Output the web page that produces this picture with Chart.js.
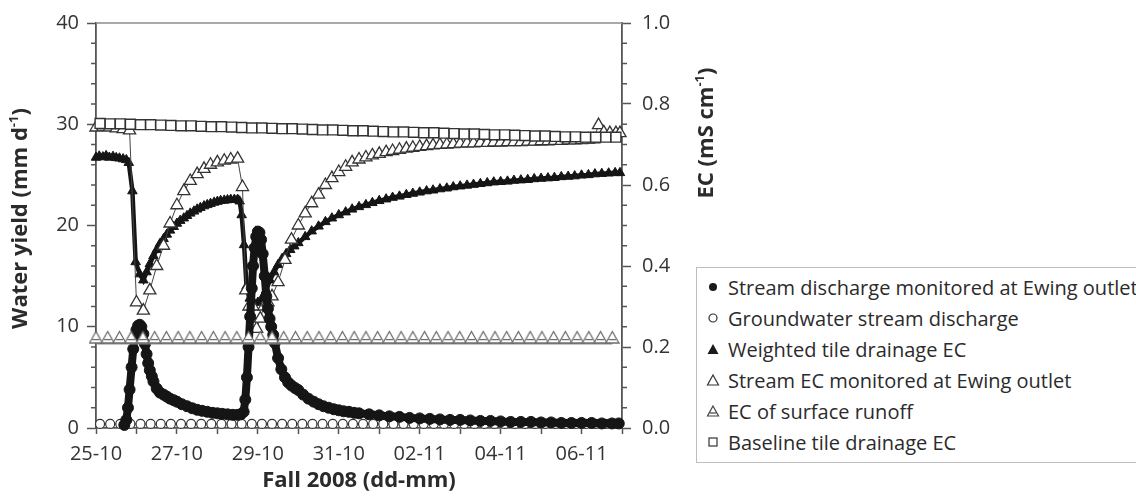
<!DOCTYPE html>
<html>
<head>
<meta charset="utf-8">
<script src="https://cdn.jsdelivr.net/npm/chart.js@4.4.1/dist/chart.umd.min.js"></script>
<style>
html, body { margin: 0; padding: 0; background: #fff; overflow: hidden; }
#wrap { position: relative; width: 1136px; height: 497px; }
#legend {
    position: absolute; left: 696px; top: 267px; width: 470px; height: 196px;
    border: 1px solid #bdbdbd; box-sizing: border-box; background: #fff;
    font-family: 'Open Sans', sans-serif; font-size: 20px; color: #2b2b2b;
}
.item { position: absolute; left: 0; height: 31px; line-height: 31px; white-space: nowrap; }
.item svg { position: absolute; left: 9px; top: 8px; }
.item span { position: absolute; left: 31px; }
</style>
</head>
<body>
<div id="wrap">
    <canvas id="chart" width="1136" height="497"></canvas>
    <div id="legend">
        <div class="item" style="top:4px"><svg width="14" height="14"><circle cx="7" cy="7" r="4" fill="#1a1a1a"/></svg><span>Stream discharge monitored at Ewing outlet</span></div>
        <div class="item" style="top:35px"><svg width="14" height="14"><circle cx="7" cy="7" r="4" fill="#fff" stroke="#333" stroke-width="1.2"/></svg><span>Groundwater stream discharge</span></div>
        <div class="item" style="top:66px"><svg width="14" height="14"><polygon points="7,2 12.5,12 1.5,12" fill="#1a1a1a"/></svg><span>Weighted tile drainage EC</span></div>
        <div class="item" style="top:97px"><svg width="14" height="14"><polygon points="7,2 12.5,12 1.5,12" fill="#fff" stroke="#333" stroke-width="1.2"/></svg><span>Stream EC monitored at Ewing outlet</span></div>
        <div class="item" style="top:128px"><svg width="14" height="14"><polygon points="7,2 12.5,12 1.5,12" fill="#fff" stroke="#444" stroke-width="1.2"/><line x1="3.8" y1="9" x2="10.2" y2="9" stroke="#444" stroke-width="1.2"/></svg><span>EC of surface runoff</span></div>
        <div class="item" style="top:159px"><svg width="14" height="14"><rect x="3" y="3" width="8" height="8" fill="#fff" stroke="#333" stroke-width="1.2"/></svg><span>Baseline tile drainage EC</span></div>
    </div>
</div>
<script>
// =======================
// DATA (x = days since 25-10 00:00)
// =======================
const dateLabels = ['25-10', '27-10', '29-10', '31-10', '02-11', '04-11', '06-11'];

// stream discharge at Ewing outlet (mm/d, left axis)
const dischargeDay = [0.70,0.75,0.79,0.83,0.88,0.92,0.96,1.00,1.04,1.08,
    1.12,1.17,1.21,1.25,1.29,1.33,1.38,1.42,1.50,1.58,
    1.67,1.75,1.83,1.92,2.00,2.12,2.25,2.38,2.50,2.62,
    2.75,2.88,3.00,3.12,3.25,3.38,3.50,3.58,3.65,3.69,
    3.73,3.77,3.81,3.85,3.88,3.92,3.96,4.00,4.04,4.08,
    4.12,4.17,4.21,4.25,4.29,4.33,4.38,4.42,4.50,4.58,
    4.67,4.75,4.83,4.92,5.00,5.12,5.25,5.38,5.50,5.62,
    5.75,5.88,6.00,6.12,6.25,6.38,6.50,6.75,7.00,7.25,
    7.50,7.75,8.00,8.25,8.50,8.75,9.00,9.25,9.50,9.75,
    10.00,10.25,10.50,10.75,11.00,11.25,11.50,11.75,12.00,12.25,
    12.50,12.75,12.92];
const dischargeVal = [0.3,0.8,2.0,3.8,6.0,7.8,9.0,9.7,10.1,10.2,
    10.0,9.3,8.3,7.3,6.4,5.7,5.1,4.6,3.9,3.5,
    3.3,3.1,2.9,2.75,2.6,2.35,2.15,1.95,1.8,1.7,
    1.6,1.5,1.45,1.4,1.35,1.3,1.3,1.35,1.6,2.8,
    5.0,8.0,11.0,13.8,16.0,17.8,18.9,19.4,19.3,18.6,
    17.2,15.0,13.0,11.8,10.8,10.0,9.2,8.4,6.9,5.8,
    5.0,4.5,4.2,3.95,3.75,3.3,2.9,2.6,2.35,2.15,
    2.0,1.85,1.75,1.65,1.6,1.5,1.45,1.35,1.25,1.15,
    1.1,1.0,0.95,0.9,0.85,0.8,0.8,0.75,0.7,0.7,
    0.65,0.6,0.6,0.6,0.55,0.55,0.5,0.5,0.5,0.5,
    0.45,0.45,0.45];

// weighted tile drainage EC (mS/cm, right axis)
const weightedDay = [0.00,0.08,0.17,0.25,0.33,0.42,0.50,0.58,0.67,0.75,
    0.81,0.90,0.98,1.08,1.17,1.25,1.33,1.42,1.50,1.58,
    1.67,1.75,1.83,1.92,2.00,2.08,2.17,2.25,2.33,2.42,
    2.50,2.58,2.67,2.75,2.83,2.92,3.00,3.08,3.17,3.25,
    3.33,3.42,3.50,3.55,3.60,3.66,3.72,3.80,3.90,4.00,
    4.10,4.20,4.30,4.40,4.50,4.60,4.70,4.80,4.90,5.00,
    5.17,5.33,5.50,5.67,5.83,6.00,6.17,6.33,6.50,6.67,
    6.83,7.00,7.17,7.33,7.50,7.67,7.83,8.00,8.17,8.33,
    8.50,8.67,8.83,9.00,9.17,9.33,9.50,9.67,9.83,10.00,
    10.17,10.33,10.50,10.67,10.83,11.00,11.17,11.33,11.50,11.67,
    11.83,12.00,12.17,12.33,12.50,12.67,12.83,12.95];
const weightedVal = [0.668,0.671,0.669,0.672,0.668,0.670,0.667,0.666,0.664,0.662,
    0.655,0.585,0.41,0.38,0.365,0.385,0.405,0.425,0.44,0.455,
    0.467,0.478,0.488,0.497,0.505,0.512,0.518,0.524,0.53,0.535,
    0.54,0.544,0.548,0.551,0.554,0.557,0.559,0.561,0.562,0.563,
    0.564,0.564,0.564,0.56,0.526,0.452,0.35,0.32,0.31,0.31,
    0.32,0.34,0.365,0.385,0.403,0.418,0.43,0.44,0.449,0.457,
    0.472,0.486,0.498,0.509,0.518,0.526,0.533,0.54,0.546,0.551,
    0.556,0.561,0.565,0.569,0.572,0.576,0.579,0.582,0.585,0.587,
    0.59,0.592,0.595,0.597,0.599,0.601,0.603,0.605,0.607,0.608,
    0.609,0.611,0.612,0.613,0.615,0.616,0.617,0.618,0.62,0.621,
    0.622,0.624,0.625,0.627,0.628,0.629,0.63,0.63];

// stream EC at Ewing outlet (mS/cm, right axis)
const streamEcDay = [0.00,0.17,0.33,0.50,0.67,0.83,1.00,1.17,1.33,1.50,
    1.67,1.83,2.00,2.17,2.33,2.50,2.67,2.83,3.00,3.17,
    3.33,3.50,3.62,3.70,3.78,3.88,3.97,4.06,4.15,4.25,
    4.35,4.50,4.67,4.83,5.00,5.17,5.33,5.50,5.67,5.83,
    6.00,6.17,6.33,6.50,6.67,6.83,7.00,7.17,7.33,7.50,
    7.67,7.83,8.00,8.17,8.33,8.50,8.67,8.83,9.00,9.17,
    9.33,9.50,9.67,9.83,10.00,10.17,10.33,10.50,10.67,10.83,
    11.00,11.17,11.33,11.50,11.67,11.83,12.00,12.17,12.30,12.42,
    12.55,12.70,12.85,12.95];
const streamEcVal = [0.742,0.744,0.742,0.740,0.738,0.735,0.31,0.29,0.34,0.40,
    0.45,0.505,0.55,0.585,0.61,0.627,0.64,0.65,0.656,0.66,
    0.663,0.665,0.595,0.34,0.30,0.30,0.245,0.27,0.30,0.31,
    0.325,0.36,0.415,0.465,0.50,0.53,0.555,0.576,0.60,0.617,
    0.632,0.645,0.656,0.663,0.668,0.673,0.677,0.681,0.684,0.687,
    0.69,0.692,0.694,0.696,0.698,0.699,0.70,0.701,0.702,0.703,
    0.703,0.704,0.704,0.705,0.705,0.706,0.706,0.706,0.707,0.707,
    0.708,0.708,0.709,0.709,0.71,0.71,0.711,0.712,0.713,0.748,
    0.73,0.728,0.728,0.728];

// baseline tile drainage EC (right axis) and groundwater discharge (left axis)
const baseDay = [0.10,0.35,0.60,0.85,1.10,1.35,1.60,1.85,2.10,2.35,
    2.60,2.85,3.10,3.35,3.60,3.85,4.10,4.35,4.60,4.85,
    5.10,5.35,5.60,5.85,6.10,6.35,6.60,6.85,7.10,7.35,
    7.60,7.85,8.10,8.35,8.60,8.85,9.10,9.35,9.60,9.85,
    10.10,10.35,10.60,10.85,11.10,11.35,11.60,11.85,12.10,12.35,
    12.60,12.85];
const baselineVal = [0.752,0.751,0.751,0.750,0.749,0.749,0.748,0.747,0.746,0.746,
    0.745,0.744,0.744,0.743,0.742,0.741,0.741,0.740,0.739,0.739,
    0.738,0.737,0.736,0.736,0.735,0.734,0.734,0.733,0.732,0.731,
    0.731,0.730,0.729,0.729,0.728,0.727,0.726,0.726,0.725,0.724,
    0.724,0.723,0.722,0.721,0.721,0.720,0.719,0.719,0.718,0.718,
    0.718,0.718];
const groundwaterVal = [0.4,0.4,0.4,0.4,0.4,0.4,0.4,0.4,0.4,0.4,
    0.4,0.4,0.4,0.4,0.4,0.4,0.4,0.4,0.4,0.4,
    0.4,0.4,0.4,0.4,0.4,0.4,0.4,0.4,0.4,0.4,
    0.4,0.4,0.4,0.4,0.4,0.4,0.4,0.4,0.4,0.4,
    0.4,0.4,0.4,0.4,0.4,0.4,0.4,0.4,0.4,0.4,
    0.4,0.4];

// EC of surface runoff (right axis)
const runoffDay = [0.00,0.29,0.58,0.87,1.16,1.45,1.74,2.03,2.32,2.61,
    2.90,3.19,3.48,3.77,4.06,4.35,4.64,4.93,5.22,5.51,
    5.80,6.09,6.38,6.67,6.96,7.25,7.54,7.83,8.12,8.41,
    8.70,8.99,9.28,9.57,9.86,10.15,10.44,10.73,11.02,11.31,
    11.60,11.89,12.18,12.47,12.76];
const runoffVal = [0.21,0.21,0.21,0.21,0.21,0.21,0.21,0.21,0.21,0.21,
    0.21,0.21,0.21,0.21,0.21,0.21,0.21,0.21,0.21,0.21,
    0.21,0.21,0.21,0.21,0.21,0.21,0.21,0.21,0.21,0.21,
    0.21,0.21,0.21,0.21,0.21,0.21,0.21,0.21,0.21,0.21,
    0.21,0.21,0.21,0.21,0.21];

function pts(days, vals) {
    return days.map((d, i) => ({ x: d, y: vals[i] }));
}

// triangle with a stripe, base sits on the point
function runoffMarker() {
    const c = document.createElement('canvas');
    c.width = 15; c.height = 26;
    const g = c.getContext('2d');
    g.fillStyle = '#fff';
    g.strokeStyle = '#6e6e6e';
    g.lineWidth = 1.3;
    g.beginPath();
    g.moveTo(7.5, 1.5); g.lineTo(14, 13); g.lineTo(1, 13); g.closePath();
    g.fill(); g.stroke();
    g.beginPath();
    g.moveTo(3.8, 9.6); g.lineTo(11.2, 9.6);
    g.stroke();
    return c;
}

// =======================
// EXTRA DRAWING: top frame, minor ticks, rotated titles
// =======================
function drawTitle(ctx, cx, cy, main, sup, tail) {
    ctx.save();
    ctx.translate(cx, cy);
    ctx.rotate(-Math.PI / 2);
    ctx.fillStyle = '#2b2b2b';
    ctx.textBaseline = 'middle';
    ctx.textAlign = 'left';
    const big = "bold 22px 'Open Sans', sans-serif";
    const small = "bold 13px 'Open Sans', sans-serif";
    ctx.font = big;
    const w1 = ctx.measureText(main).width;
    const w3 = ctx.measureText(tail).width;
    ctx.font = small;
    const w2 = ctx.measureText(sup).width;
    let x = -(w1 + w2 + w3) / 2;
    ctx.font = big;
    ctx.fillText(main, x, 0);
    x += w1;
    ctx.font = small;
    ctx.fillText(sup, x, -7);
    x += w2;
    ctx.font = big;
    ctx.fillText(tail, x, 0);
    ctx.restore();
}

const extras = {
    id: 'extras',
    afterDraw(chart) {
        const ctx = chart.ctx;
        const a = chart.chartArea;
        const yl = chart.scales.y;
        const yr = chart.scales.y2;
        ctx.save();
        ctx.strokeStyle = '#8c8c8c';
        ctx.lineWidth = 1.6;
        ctx.beginPath();
        ctx.moveTo(a.left, a.top);
        ctx.lineTo(a.right, a.top);
        ctx.stroke();

        ctx.strokeStyle = '#555';
        ctx.lineWidth = 1.4;
        ctx.beginPath();
        for (let k = 1; k < 20; k++) {
            if (k % 5 === 0) continue;
            const py = yl.getPixelForValue(k * 2);
            ctx.moveTo(a.left - 5, py); ctx.lineTo(a.left, py);
        }
        for (let k = 1; k < 20; k++) {
            if (k % 4 === 0) continue;
            const py = yr.getPixelForValue(k * 0.05);
            ctx.moveTo(a.right, py); ctx.lineTo(a.right + 5, py);
        }
        ctx.stroke();
        ctx.restore();

        drawTitle(ctx, 21, (a.top + a.bottom) / 2 - 7, 'Water yield (mm d', '-1', ')');
        drawTitle(ctx, 707, 133, 'EC (mS cm', '-1', ')');
    }
};

// =======================
// CHART
// =======================
Chart.defaults.font.family = "'Open Sans', sans-serif";
Chart.defaults.color = '#333';

const tickFont = { size: 20 };
const axisGrid = { drawOnChartArea: false, drawTicks: true, tickLength: 9, tickColor: '#555', tickWidth: 1.5 };
const axisBorder = { color: '#555', width: 1.8 };

new Chart(document.getElementById('chart'), {
    type: 'line',
    data: {
        datasets: [
            {
                label: 'EC of surface runoff',
                data: pts(runoffDay, runoffVal),
                yAxisID: 'y2',
                borderColor: '#8c8c8c',
                borderWidth: 3,
                pointStyle: runoffMarker(),
                pointRadius: 6,
                clip: false
            },
            {
                label: 'Stream discharge monitored at Ewing outlet',
                data: pts(dischargeDay, dischargeVal),
                yAxisID: 'y',
                borderColor: '#151515',
                borderWidth: 8,
                pointStyle: 'circle',
                pointRadius: 5.5,
                pointBackgroundColor: '#151515',
                pointBorderColor: '#151515',
                pointBorderWidth: 1,
                clip: false
            },
            {
                label: 'Baseline tile drainage EC',
                data: pts(baseDay, baselineVal),
                yAxisID: 'y2',
                borderColor: '#777',
                borderWidth: 1,
                pointStyle: 'rect',
                pointRadius: 7,
                pointBackgroundColor: '#fff',
                pointBorderColor: '#333',
                pointBorderWidth: 1.4,
                clip: false
            },
            {
                label: 'Stream EC monitored at Ewing outlet',
                data: pts(streamEcDay, streamEcVal),
                yAxisID: 'y2',
                borderColor: '#444',
                borderWidth: 1,
                pointStyle: 'triangle',
                pointRadius: 7,
                pointBackgroundColor: '#fff',
                pointBorderColor: '#333',
                pointBorderWidth: 1.3,
                clip: false
            },
            {
                label: 'Weighted tile drainage EC',
                data: pts(weightedDay, weightedVal),
                yAxisID: 'y2',
                borderColor: '#151515',
                borderWidth: 4.5,
                pointStyle: 'triangle',
                pointRadius: 5.5,
                pointBackgroundColor: '#151515',
                pointBorderColor: '#151515',
                pointBorderWidth: 1,
                clip: false
            },
            {
                label: 'Groundwater stream discharge',
                data: pts(baseDay, groundwaterVal),
                yAxisID: 'y',
                borderColor: '#555',
                borderWidth: 1,
                pointStyle: 'circle',
                pointRadius: 4.5,
                pointBackgroundColor: '#fff',
                pointBorderColor: '#333',
                pointBorderWidth: 1.2,
                clip: false
            }
        ]
    },
    options: {
        responsive: false,
        animation: false,
        events: [],
        layout: { padding: { top: 23, right: 0, bottom: 0, left: 0 } },
        plugins: {
            legend: { display: false },
            tooltip: { enabled: false }
        },
        elements: { line: { tension: 0 } },
        scales: {
            x: {
                type: 'linear',
                min: 0,
                max: 13,
                ticks: {
                    stepSize: 1,
                    autoSkip: false,
                    maxRotation: 0,
                    padding: 8,
                    font: tickFont,
                    callback: (v) => (v % 2 === 0 && v / 2 < dateLabels.length) ? dateLabels[v / 2] : ''
                },
                grid: Object.assign({}, axisGrid, { tickLength: 6 }),
                border: axisBorder,
                title: {
                    display: true,
                    text: 'Fall 2008 (dd-mm)',
                    color: '#2b2b2b',
                    font: { size: 22, weight: 'bold' },
                    padding: { top: 0, bottom: 3 }
                },
                afterFit: (s) => { s.height = 69; }
            },
            y: {
                position: 'left',
                min: 0,
                max: 40,
                ticks: { stepSize: 10, padding: 8, font: tickFont },
                grid: axisGrid,
                border: axisBorder,
                afterFit: (s) => { s.width = 96; }
            },
            y2: {
                position: 'right',
                min: 0,
                max: 1,
                ticks: { stepSize: 0.2, padding: 11, font: tickFont, callback: (v) => v.toFixed(1) },
                grid: axisGrid,
                border: axisBorder,
                afterFit: (s) => { s.width = 514; }
            }
        }
    },
    plugins: [extras]
});
</script>
</body>
</html>
